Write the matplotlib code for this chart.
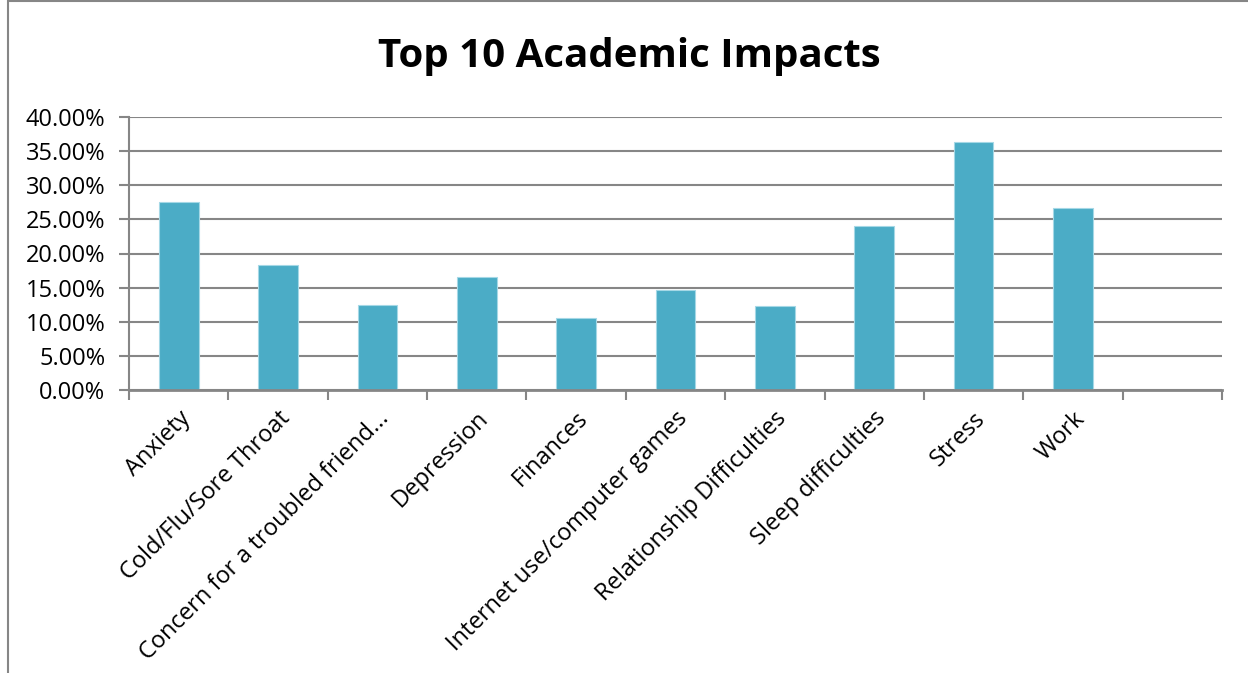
import matplotlib
matplotlib.use("Agg")
import matplotlib.pyplot as plt
from matplotlib.patches import Rectangle
from matplotlib.ticker import FuncFormatter, FixedLocator

categories = ["Anxiety", "Cold/Flu/Sore Throat", "Concern for a troubled friend...",
              "Depression", "Finances", "Internet use/computer games",
              "Relationship Difficulties", "Sleep difficulties", "Stress", "Work"]
values = [27.5, 18.3, 12.4, 16.5, 10.6, 14.7, 12.3, 24.1, 36.3, 26.7]
yticks = [0, 5, 10, 15, 20, 25, 30, 35, 40]

plt.rcParams['font.family'] = ['Open Sans', 'DejaVu Sans']

fig = plt.figure(figsize=(12.48, 6.73), dpi=100)
ax = fig.add_axes([129 / 1248, 1 - 390 / 673, 1093 / 1248, 273 / 673])

grey = '#868686'
n_slots = len(categories) + 1
xs = [i + 0.5 for i in range(len(categories))]
ax.bar(xs, values, width=0.4, color='#4bacc6', edgecolor='#a5d8e6', linewidth=0.8, zorder=3)

ax.set_xlim(0, n_slots)
ax.set_ylim(0, 40)
ax.set_yticks(yticks)
ax.yaxis.set_major_formatter(FuncFormatter(lambda v, p: f"{v:.2f}%"))
ax.grid(axis='y', color=grey, linewidth=1.5, zorder=0)

ax.xaxis.set_major_locator(FixedLocator(list(range(n_slots + 1))))
ax.set_xticklabels([])
ax.xaxis.set_minor_locator(FixedLocator(xs))
ax.set_xticklabels(categories, minor=True, rotation=45, ha='right', va='top',
                   rotation_mode='anchor', fontsize=17)
ax.tick_params(axis='x', which='minor', length=0, pad=12)
ax.tick_params(axis='x', which='major', length=7, width=1.5, color=grey, direction='out')
ax.tick_params(axis='y', length=7, width=1.5, color=grey, labelsize=17, pad=10)

for s in ['top', 'right']:
    ax.spines[s].set_visible(False)
ax.spines['left'].set_color(grey)
ax.spines['left'].set_linewidth(1.5)
ax.spines['bottom'].set_color(grey)
ax.spines['bottom'].set_linewidth(2)
ax.spines['bottom'].set_zorder(4)

fig.suptitle("Top 10 Academic Impacts", x=629 / 1248, y=1 - 57 / 673, va='center',
             fontsize=29, fontweight='bold')

# chart area border (cropped at right and bottom)
fig.patches.append(Rectangle((8 / 1248, -0.1), 1.2, 1 - 1.5 / 673 + 0.1,
                             transform=fig.transFigure, fill=False,
                             edgecolor='#868686', linewidth=1.5))

fig.savefig("out.png", dpi=100)
